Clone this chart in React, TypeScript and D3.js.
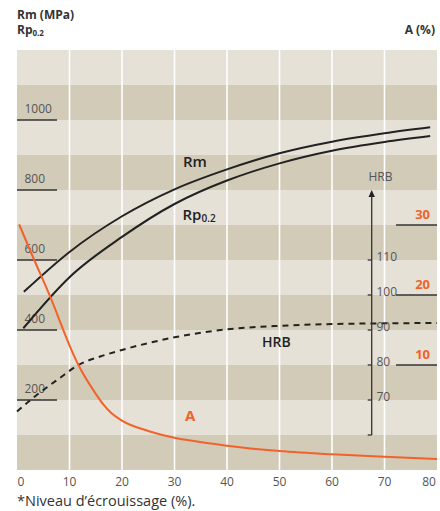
import React from "react";
import * as d3 from "d3";

// ---- data ----
const xTicks = [0, 10, 20, 30, 40, 50, 60, 70, 80];
const mpaTicks = [200, 400, 600, 800, 1000];
const hrbTicks = [70, 80, 90, 100, 110];
const aTicks = [10, 20, 30];

const rmX = [1.3, 10, 20, 30, 40, 50, 60, 70, 78.7];
const rmVals = [509, 623, 725, 802, 859, 905, 938, 962, 979];

const rpX = [1.2, 10, 20, 30, 40, 50, 60, 70, 78.7];
const rpVals = [405, 551, 666, 760, 827, 876, 912, 937, 954];

const hrbX = [0, 3.4, 7.9, 11.7, 16, 20, 30, 40, 50, 60, 70, 80];
const hrbVals = [66.7, 71, 76, 80, 82.5, 84.3, 87.9, 90.2, 91.2, 91.7, 91.9, 92.0];

const aX = [0.4, 3, 6.3, 10.4, 11.7, 14.9, 16.4, 18, 19.9, 25, 30, 37.7, 40, 50, 60, 70, 80];
const aVals = [30.1, 25.5, 19.8, 12.1, 10, 6.0, 4.4, 3.1, 2.1, 0.57, -0.39, -1.29, -1.53, -2.29, -2.76, -3.1, -3.43];

const W = 440;
const H = 511;
const FONT = "'Open Sans', 'DejaVu Sans', sans-serif";
const ORANGE = "#F2622A";
const DARK = "#222";
const GRAY = "#555";
const LIGHT_BAND = "#E5E1D7";
const DARK_BAND = "#D2CBB8";

export default function App() {
  const x = d3.scaleLinear().domain([0, 80]).range([17, 437]);
  const yM = d3.scaleLinear().domain([0, 1200]).range([470, 50]);
  const yH = d3.scaleLinear().domain([60, 130]).range([435, 190]);
  const yA = d3.scaleLinear().domain([0, 30]).range([435, 225]);

  const bands = d3.range(0, 1200, 100);

  const lineM = d3
    .line<[number, number]>()
    .x((d) => x(d[0]))
    .y((d) => yM(d[1]))
    .curve(d3.curveMonotoneX);
  const lineH = d3
    .line<[number, number]>()
    .x((d) => x(d[0]))
    .y((d) => yH(d[1]))
    .curve(d3.curveMonotoneX);
  const lineA = d3
    .line<[number, number]>()
    .x((d) => x(d[0]))
    .y((d) => yA(d[1]))
    .curve(d3.curveMonotoneX);

  const rm = lineM(rmX.map((v, i) => [v, rmVals[i]] as [number, number])) || "";
  const rp = lineM(rpX.map((v, i) => [v, rpVals[i]] as [number, number])) || "";
  const hrb = lineH(hrbX.map((v, i) => [v, hrbVals[i]] as [number, number])) || "";
  const aPath = lineA(aX.map((v, i) => [v, aVals[i]] as [number, number])) || "";

  const axisX = 371.7;
  const hTop = yH(130);
  const hBottom = yH(60);

  return (
    <svg
      width={W}
      height={H}
      style={{ position: "absolute", left: 0, top: 0 }}
      fontFamily={FONT}
    >
      <rect x={0} y={0} width={W} height={H} fill="#fff" />
      {/* bands */}
      {bands.map((b, i) => (
        <rect
          key={b}
          x={x(0)}
          y={yM(b + 100)}
          width={x(80) - x(0)}
          height={yM(b) - yM(b + 100)}
          fill={(bands.length - 1 - i) % 2 === 0 ? LIGHT_BAND : DARK_BAND}
        />
      ))}
      {/* vertical grid */}
      {xTicks.slice(1, -1).map((t) => (
        <line key={t} x1={x(t)} x2={x(t)} y1={yM(1200)} y2={yM(0)} stroke="#fff" strokeWidth={1.6} />
      ))}
      {/* x labels */}
      {xTicks.map((t, i) => (
        <text
          key={t}
          x={i === 0 ? x(t) + 4 : i === xTicks.length - 1 ? x(t) - 8 : x(t)}
          y={486}
          fontSize={12}
          fill={GRAY}
          textAnchor="middle"
        >
          {t}
        </text>
      ))}
      {/* left MPa ticks */}
      {mpaTicks.map((t) => (
        <g key={t}>
          <line x1={17} x2={57} y1={yM(t)} y2={yM(t)} stroke="#333" strokeWidth={1.3} />
          <text x={24.5} y={yM(t) - 7.5} fontSize={12} fill={GRAY}>
            {t}
          </text>
        </g>
      ))}
      {/* right A ticks */}
      {aTicks.map((t) => (
        <g key={t}>
          <line x1={396} x2={437} y1={yA(t)} y2={yA(t)} stroke="#333" strokeWidth={1.3} />
          <text x={430} y={yA(t) - 6} fontSize={13} fontWeight={700} fill={ORANGE} textAnchor="end">
            {t}
          </text>
        </g>
      ))}
      {/* curves */}
      <path d={rm} fill="none" stroke={DARK} strokeWidth={2} />
      <path d={rp} fill="none" stroke={DARK} strokeWidth={2} />
      <path d={hrb} fill="none" stroke={DARK} strokeWidth={2} strokeDasharray="6,5" />
      <path d={aPath} fill="none" stroke={ORANGE} strokeWidth={2} />
      {/* HRB axis */}
      <line x1={axisX} x2={axisX} y1={hTop + 5} y2={hBottom} stroke="#333" strokeWidth={1.3} />
      <path d={`M${axisX},${hTop} L${axisX - 3.2},${hTop + 7} L${axisX + 3.2},${hTop + 7} Z`} fill="#222" />
      {[60, ...hrbTicks].map((t) => (
        <line key={t} x1={axisX - 4} x2={axisX} y1={yH(t)} y2={yH(t)} stroke="#333" strokeWidth={1.3} />
      ))}
      {hrbTicks.map((t) => (
        <text key={t} x={376.5} y={yH(t) + 1} fontSize={12} fill={GRAY}>
          {t}
        </text>
      ))}
      <text x={380.5} y={181} fontSize={12} fill={GRAY} textAnchor="middle">
        HRB
      </text>
      {/* series labels */}
      <text x={183} y={167} fontSize={15} fontWeight={600} fill={DARK}>
        Rm
      </text>
      <text x={182.5} y={219.5} fontSize={15} fontWeight={600} fill={DARK}>
        Rp
        <tspan fontSize={10} dy={2.5}>0.2</tspan>
      </text>
      <text x={262} y={346.5} fontSize={14} fontWeight={600} fill={DARK}>
        HRB
      </text>
      <text x={185} y={420.5} fontSize={15} fontWeight={700} fill={ORANGE}>
        A
      </text>
      {/* titles */}
      <text x={17} y={18.5} fontSize={12} fontWeight={700} fill="#333">
        Rm (MPa)
      </text>
      <text x={17} y={34} fontSize={12} fontWeight={700} fill="#333">
        Rp
        <tspan fontSize={8} dy={1.5}>0.2</tspan>
      </text>
      <text x={435} y={34} fontSize={12} fontWeight={700} fill="#333" textAnchor="end">
        A (%)
      </text>
      <text x={17} y={506} fontSize={14.5} fill="#333">
        *Niveau d’écrouissage (%).
      </text>
    </svg>
  );
}
